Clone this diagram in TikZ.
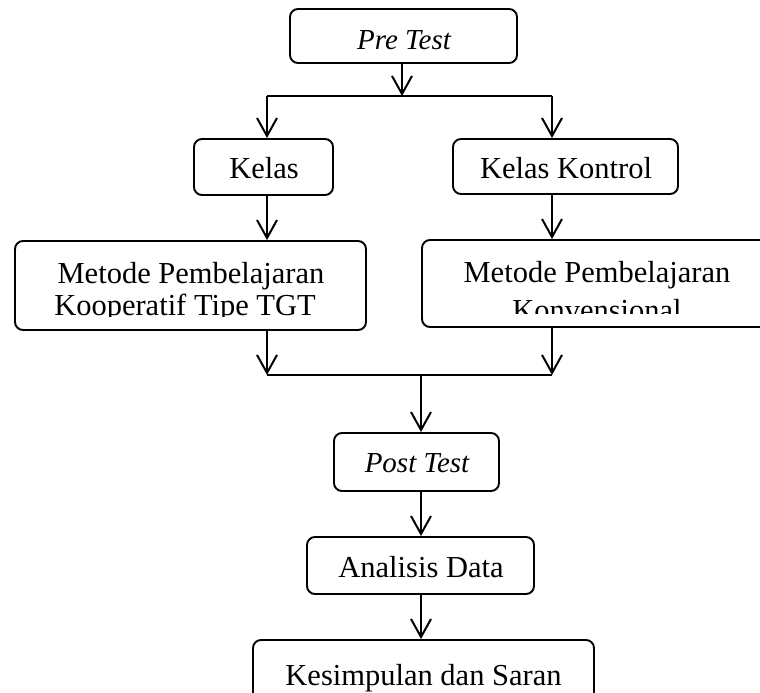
\documentclass[tikz,border=0pt]{standalone}
\usepackage{fontspec}
\setmainfont{Liberation Serif}
\usetikzlibrary{arrows.meta}
\begin{document}
\begin{tikzpicture}[x=1pt,y=-1pt,
  box/.style={draw, line width=1.9pt, rounded corners=8pt, inner sep=0pt, rectangle},
  lbl/.style={font=\fontsize{30.5}{34}\selectfont, inner sep=0pt, anchor=base},
  ilbl/.style={font=\fontsize{29}{34}\selectfont\itshape, inner sep=0pt, anchor=base},
  arr/.style={line width=2pt, -{Straight Barb[length=18pt,width=20pt]}},
  ln/.style={line width=2pt}]
\clip (0,0) rectangle (760,693);
\fill[white] (0,0) rectangle (760,693);

% boxes
\node[box, minimum width=227pt, minimum height=54pt] (pre) at (403.5,36) {};
\node[box, minimum width=139pt, minimum height=56pt] (kelas) at (263.5,167) {};
\node[box, minimum width=225pt, minimum height=55pt] (kontrol) at (565.5,166.5) {};
\node[box, minimum width=351pt, minimum height=89pt] (metodeL) at (190.5,285.5) {};
\node[box, minimum width=350pt, minimum height=87pt] (metodeR) at (597,283.5) {};
\node[box, minimum width=165pt, minimum height=58pt] (post) at (416.5,462) {};
\node[box, minimum width=227pt, minimum height=57pt] (analisis) at (420.5,565.5) {};
\node[box, minimum width=341pt, minimum height=90pt] (kesimpulan) at (423.5,685) {};

% texts
\node[ilbl] (tpre) at (404,49) {Pre Test};
\node[lbl] (tkelas) at (264,178) {Kelas};
\node[lbl] (tkontrol) at (566,178) {Kelas Kontrol};
\node[lbl] (tmL1) at (191,283) {Metode Pembelajaran};
\begin{scope}
  \clip (14,240) rectangle (367,316);
  \node[lbl] (tmL2) at (185,315) {Kooperatif Tipe TGT};
\end{scope}
\node[lbl] (tmR1) at (597,282) {Metode Pembelajaran};
\begin{scope}
  \clip (421,239) rectangle (773,313);
  \node[lbl] (tmR2) at (597,320) {Konvensional};
\end{scope}
\node[ilbl] (tpost) at (417,472) {Post Test};
\node[lbl] (tanalisis) at (421,577) {Analisis Data};
\node[lbl] (tkes) at (423.5,685) {Kesimpulan dan Saran};

% junctions
\coordinate (jL) at (267,96);
\coordinate (jR) at (552,96);
\coordinate (jT) at (402,96);
\coordinate (kL) at (267,375);
\coordinate (kR) at (552,375);
\coordinate (kM) at (421,375);

% connectors
\draw[arr] (pre.south -| jT) -- (jT);
\draw[ln] (jL) -- (jR);
\draw[arr] (jL) -- (jL |- kelas.north);
\draw[arr] (jR) -- (jR |- kontrol.north);
\draw[arr] (jL |- kelas.south) -- (jL |- metodeL.north);
\draw[arr] (jR |- kontrol.south) -- (jR |- metodeR.north);
\draw[arr] (jL |- metodeL.south) -- (kL);
\draw[arr] (jR |- metodeR.south) -- (kR);
\draw[ln] (kL) -- (kR);
\draw[arr] (kM) -- (kM |- post.north);
\draw[arr] (kM |- post.south) -- (kM |- analisis.north);
\draw[arr] (kM |- analisis.south) -- (kM |- kesimpulan.north);
\end{tikzpicture}
\end{document}
